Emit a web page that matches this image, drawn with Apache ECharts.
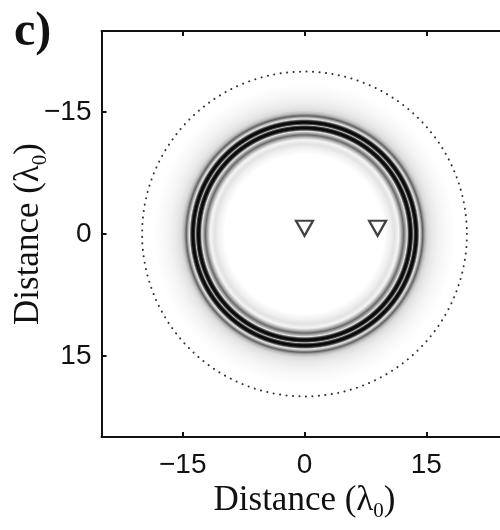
<!DOCTYPE html>
<html>
<head>
<meta charset="utf-8">
<script src="https://cdn.jsdelivr.net/npm/echarts@6/dist/echarts.min.js"></script>
<style>html,body{margin:0;padding:0;background:#fff}#c{width:500px;height:530px}</style>
</head>
<body>
<div id="c"></div>
<script>
// ---- data ----
const xTicks = [-15, 0, 15];
const yTicks = [-15, 0, 15];
const ringCenter = [0, 0];
// radial intensity profile of the ring pattern (radius in lambda0, gray level 0=black..255=white)
const profileRadius = [0, 9.8, 10.6, 11.1, 11.6, 11.9, 12.2, 12.5, 12.65, 12.8, 12.95, 13.17, 13.3, 13.4, 13.5, 13.63, 13.85, 14.0, 14.15, 14.3, 14.55, 14.85, 15.2, 15.8, 16.6, 17.6, 18.6];
const profileGray   = [255, 255, 240, 226, 245, 185, 105, 185, 232, 80, 10, 10, 80, 195, 80, 10, 10, 80, 228, 195, 95, 185, 220, 233, 243, 250, 255];
const dottedRadius = 20;
const stationX = [0, 9];
const stationY = [-0.7, -0.7];

const fmt = v => (v < 0 ? '\u2212' + Math.abs(v) : String(v));
const Rmax = profileRadius[profileRadius.length - 1];
const stops = profileRadius.map((r, i) => {
  const g = profileGray[i];
  return { offset: r / Rmax, color: 'rgb(' + g + ',' + g + ',' + g + ')' };
});

const nameRich = {
  a: { fontFamily: 'Liberation Serif', fontSize: 35, color: '#111', verticalAlign: 'top', lineHeight: 40 },
  s: { fontFamily: 'Liberation Serif', fontSize: 21, color: '#111', verticalAlign: 'top', padding: [18, 0, 0, 0] }
};
const axisName = '{a|Distance (\u03bb}{s|0}{a|)}';

const chart = echarts.init(document.getElementById('c'), null, { renderer: 'canvas' });
chart.setOption({
  animation: false,
  backgroundColor: '#fff',
  grid: { left: 101.5, top: 31, width: 406, height: 406, containLabel: false, outerBoundsMode: 'none' },
  graphic: [{
    type: 'text', left: 14, top: 9,
    style: { text: 'c)', font: 'bold 48px "Liberation Serif"', fill: '#111' }
  }],
  xAxis: [{
    type: 'value', min: -25, max: 25, position: 'bottom',
    axisLine: { show: true, onZero: false, lineStyle: { color: '#111', width: 2 } },
    axisTick: { show: true, inside: true, length: 5, lineStyle: { color: '#111', width: 2 }, customValues: xTicks },
    axisLabel: { show: true, customValues: xTicks, formatter: fmt, fontFamily: 'Liberation Sans', fontSize: 28, color: '#111', margin: 14 },
    splitLine: { show: false },
    name: axisName, nameLocation: 'middle', nameGap: 46, nameMoveOverlap: false, nameTextStyle: { rich: nameRich }
  }, {
    type: 'value', min: -25, max: 25, position: 'top',
    axisLine: { show: true, onZero: false, lineStyle: { color: '#111', width: 2 } },
    axisTick: { show: true, inside: true, length: 5, lineStyle: { color: '#111', width: 2 }, customValues: xTicks },
    axisLabel: { show: false },
    splitLine: { show: false }
  }],
  yAxis: [{
    type: 'value', min: -25, max: 25, inverse: true, position: 'left',
    axisLine: { show: true, onZero: false, lineStyle: { color: '#111', width: 2 } },
    axisTick: { show: true, inside: true, length: 5, lineStyle: { color: '#111', width: 2 }, customValues: yTicks },
    axisLabel: { show: true, customValues: yTicks, formatter: fmt, fontFamily: 'Liberation Sans', fontSize: 28, color: '#111', margin: 10 },
    splitLine: { show: false },
    name: axisName, nameLocation: 'middle', nameGap: 50, nameMoveOverlap: false, nameTextStyle: { rich: nameRich }
  }],
  series: [{
    type: 'custom',
    coordinateSystem: 'cartesian2d',
    data: [ringCenter],
    z: 1,
    renderItem: function (params, api) {
      const c = api.coord([api.value(0), api.value(1)]);
      const R = api.size([Rmax, Rmax])[0];
      return {
        type: 'circle',
        shape: { cx: c[0], cy: c[1], r: R },
        style: { fill: { type: 'radial', x: 0.5, y: 0.5, r: 0.5, colorStops: stops, global: false }, stroke: null }
      };
    }
  }, {
    type: 'custom',
    coordinateSystem: 'cartesian2d',
    data: [[ringCenter[0], ringCenter[1], dottedRadius]],
    z: 2,
    renderItem: function (params, api) {
      const c = api.coord([api.value(0), api.value(1)]);
      const R = api.size([api.value(2), api.value(2)])[0];
      return {
        type: 'circle',
        shape: { cx: c[0], cy: c[1], r: R },
        style: { fill: 'none', stroke: '#333', lineWidth: 2, lineDash: [0.1, 6.4], lineCap: 'round' }
      };
    }
  }, {
    type: 'scatter',
    data: stationX.map((x, i) => [x, stationY[i]]),
    symbol: 'triangle', symbolRotate: 180, symbolSize: [17, 15],
    itemStyle: { color: 'rgba(255,255,255,0)', borderColor: '#111', borderWidth: 2.2 },
    z: 3
  }]
});
</script>
</body>
</html>
